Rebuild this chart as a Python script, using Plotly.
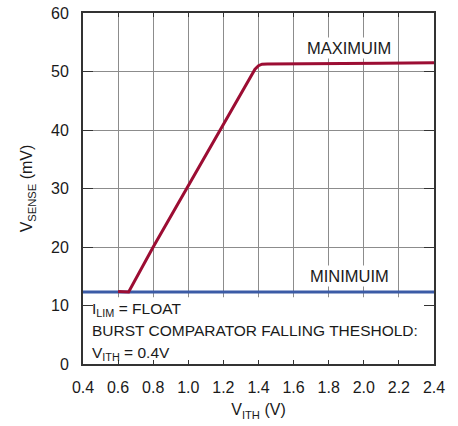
import plotly.graph_objects as go

# Data
vith_max = [0.60, 0.66, 0.80, 1.00, 1.18, 1.30, 1.36, 1.38, 1.40, 1.42, 1.45, 1.80, 2.10, 2.40]
vsense_max = [12.4, 12.3, 20.0, 30.5, 40.0, 46.3, 49.4, 50.4, 51.0, 51.25, 51.3, 51.3, 51.4, 51.5]
vith_min = [0.40, 2.40]
vsense_min = [12.3, 12.3]

x_ticks = [0.4, 0.6, 0.8, 1.0, 1.2, 1.4, 1.6, 1.8, 2.0, 2.2, 2.4]
x_ticklabels = ["0.4", "0.6", "0.8", "1.0", "1.2", "1.4", "1.6", "1.8", "2.0", "2.2", "2.4"]
y_ticks = [0, 10, 20, 30, 40, 50, 60]

RED = "#9c0d33"
BLUE = "#3b5ba6"
FRAME = "#333333"
GRID = "#8c8c8c"
TXT = "#1a1a1a"
FONT = "Liberation Sans, Arial, sans-serif"

fig = go.Figure()
fig.add_trace(go.Scatter(x=vith_min, y=vsense_min, mode="lines",
                         line=dict(color=BLUE, width=3), showlegend=False))
fig.add_trace(go.Scatter(x=vith_max, y=vsense_max, mode="lines",
                         line=dict(color=RED, width=3), showlegend=False))

# white box covering grid in the note region
fig.add_shape(type="rect", xref="x", yref="y", x0=0.4, x1=2.4, y0=0, y1=11.4,
              fillcolor="white", line=dict(width=0), layer="between")

fig.add_annotation(x=1.918, y=53.97, xref="x", yref="y", text="MAXIMUIM",
                   showarrow=False, bgcolor="white", borderpad=1,
                   font=dict(family=FONT, size=16.5, color=TXT))
fig.add_annotation(x=1.917, y=15.0, xref="x", yref="y", text="MINIMUIM",
                   showarrow=False, bgcolor="white", borderpad=1,
                   font=dict(family=FONT, size=16.5, color=TXT))

notes = ["I<sub>LIM</sub> = FLOAT", "BURST COMPARATOR FALLING THESHOLD:", "V<sub>ITH</sub> = 0.4V"]
note_y = [9.37, 5.69, 1.8]
for t, yy in zip(notes, note_y):
    fig.add_annotation(x=0.44, y=yy, xref="x", yref="y", text=t, showarrow=False,
                       xanchor="left", yanchor="middle",
                       font=dict(family=FONT, size=15.5, color=TXT))

fig.update_xaxes(range=[0.4, 2.4], tickvals=x_ticks, ticktext=x_ticklabels,
                 showgrid=True, gridcolor=GRID, gridwidth=1,
                 showline=True, linecolor=FRAME, linewidth=2, mirror="ticks",
                 ticks="inside", ticklen=4, tickcolor=FRAME, tickwidth=1,
                 zeroline=False, fixedrange=True, automargin=False,
                 ticklabelstandoff=8, ticklabeloverflow="allow",
                 tickfont=dict(family=FONT, size=16, color=TXT),
                 title=dict(text="V<sub>ITH</sub> (V)", standoff=9,
                            font=dict(family=FONT, size=16, color=TXT)))
fig.update_yaxes(range=[0, 60], tickvals=y_ticks,
                 showgrid=True, gridcolor=GRID, gridwidth=1,
                 showline=True, linecolor=FRAME, linewidth=2, mirror="ticks",
                 ticks="inside", ticklen=10, tickcolor=FRAME, tickwidth=1,
                 zeroline=False, fixedrange=True, automargin=False,
                 ticklabelstandoff=9, ticklabeloverflow="allow",
                 tickfont=dict(family=FONT, size=16, color=TXT),
                 title=dict(text="V<sub>SENSE</sub> (mV)", standoff=14,
                            font=dict(family=FONT, size=16, color=TXT)))

fig.update_layout(template="none", width=458, height=426,
                  plot_bgcolor="white", paper_bgcolor="white",
                  margin=dict(l=83, r=24, t=13, b=62), showlegend=False)

# remove the default 8px page margin so the figure sits at the window's corner
fig.write_html("out.html", config={"displayModeBar": False},
               post_script="document.body.style.margin='0';document.body.style.overflow='hidden';")
